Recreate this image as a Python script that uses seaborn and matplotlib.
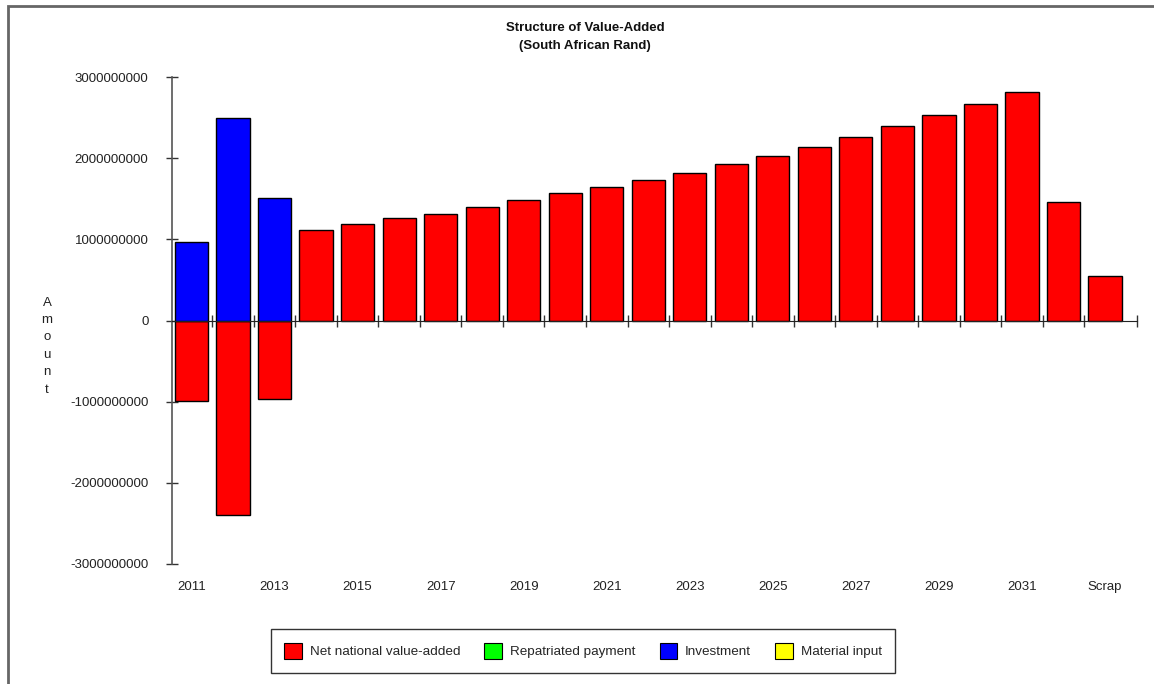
import numpy as np
import pandas as pd
import matplotlib
matplotlib.use("Agg")
import matplotlib.pyplot as plt
import seaborn as sns
from matplotlib.patches import Patch, Rectangle

# ---------------- data ----------------
categories = [str(y) for y in range(2011, 2033)] + ["Scrap"]
net_value_added = [-0.99e9, -2.40e9, -0.97e9, 1.12e9, 1.19e9, 1.26e9, 1.31e9,
                   1.40e9, 1.48e9, 1.57e9, 1.64e9, 1.73e9, 1.82e9, 1.93e9,
                   2.03e9, 2.14e9, 2.26e9, 2.40e9, 2.53e9, 2.67e9, 2.81e9,
                   1.46e9, 0.55e9]
investment = [0.97e9, 2.50e9, 1.51e9] + [np.nan] * 20
y_ticks = [-3e9, -2e9, -1e9, 0, 1e9, 2e9, 3e9]
x_tick_labels = ["2011", "2013", "2015", "2017", "2019", "2021", "2023",
                 "2025", "2027", "2029", "2031", "Scrap"]
series_names = ["Net national value-added", "Repatriated payment",
                "Investment", "Material input"]
series_colors = ["#FF0000", "#00FF00", "#0000FF", "#FFFF00"]

# ---------------- style ----------------
sns.set_style("white")
plt.rcParams["font.family"] = ["Liberation Sans", "DejaVu Sans"]

W, H = 1154, 684
fig = plt.figure(figsize=(W / 100, H / 100), dpi=100)
ax = fig.add_axes([172 / W, 1 - 564 / H, (1137 - 172) / W, (564 - 77) / H])

df = pd.DataFrame({"category": categories,
                   "net": net_value_added,
                   "inv": investment})

sns.barplot(data=df, x="category", y="net", order=categories,
            color=series_colors[0], saturation=1, edgecolor="black",
            linewidth=1, width=0.8, ax=ax)
sns.barplot(data=df, x="category", y="inv", order=categories,
            color=series_colors[2], saturation=1, edgecolor="black",
            linewidth=1, width=0.8, ax=ax)

x_left, x_right = -0.47, len(categories) - 0.23
ax.set_xlim(x_left, x_right)
ax.set_ylim(-3e9, 3e9)
ax.set_xlabel("")
ax.set_ylabel("")

# y axis
ax.set_yticks(y_ticks)
ax.set_yticklabels([f"{int(v)}" for v in y_ticks])
ax.tick_params(axis="y", left=True, direction="inout", length=9, width=1,
               color="#333333", labelsize=9.5, labelcolor="#222222", pad=12.5)

# x axis: line at zero with boundary ticks
for s in ["top", "right"]:
    ax.spines[s].set_visible(False)
ax.spines["bottom"].set_position(("data", 0))
ax.spines["bottom"].set_color("#222222")
ax.spines["left"].set_color("#555555")
ax.spines["left"].set_linewidth(1.2)
boundary_ticks = list(np.arange(0.5, len(categories) - 1, 1.0)) + [x_right]
ax.set_xticks(boundary_ticks)
ax.set_xticklabels([])
ax.tick_params(axis="x", bottom=True, direction="inout", length=8, width=1,
               color="#333333", labelbottom=False)

# category labels at bottom
label_pos = [categories.index(c) for c in x_tick_labels]
sec = ax.secondary_xaxis("bottom")
sec.set_xticks(label_pos)
sec.set_xticklabels(x_tick_labels)
sec.tick_params(bottom=False, length=0, pad=12, labelsize=9.5,
                labelcolor="#222222")
sec.spines["bottom"].set_visible(False)

# title
fig.text(585 / W, 1 - 28 / H, "Structure of Value-Added", ha="center",
         va="center", fontsize=9.5, weight="bold", color="#111111")
fig.text(585 / W, 1 - 46 / H, "(South African Rand)", ha="center",
         va="center", fontsize=9.5, weight="bold", color="#111111")

# vertical stacked y label
fig.text(47 / W, 1 - 346 / H, "A\nm\no\nu\nn\nt", ha="center", va="center",
         fontsize=9.5, color="#222222", linespacing=1.6)

# legend
handles = [Patch(facecolor=c, edgecolor="black", linewidth=0.8)
           for c in series_colors]
leg = fig.legend(handles, series_names, loc="center",
                 bbox_to_anchor=(583 / W, 1 - 651 / H), ncol=4,
                 fontsize=9.7, frameon=True, fancybox=False,
                 handlelength=1.3, handleheight=1.5, handletextpad=0.6,
                 columnspacing=1.8, borderpad=1.0)
leg.get_frame().set_edgecolor("black")
leg.get_frame().set_linewidth(1)

# outer frame
fig.patches.append(Rectangle((8 / W, -0.5), 2.0, (1 - 6 / H) + 0.5,
                             transform=fig.transFigure, fill=False,
                             edgecolor="#666666", linewidth=2))

fig.savefig("out.png", dpi=100)
